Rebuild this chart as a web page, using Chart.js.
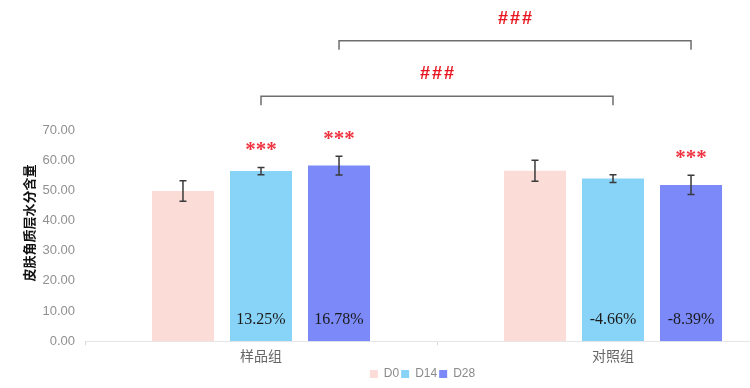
<!DOCTYPE html>
<html>
<head>
<meta charset="utf-8">
<script src="https://cdn.jsdelivr.net/npm/chart.js@4.4.0/dist/chart.umd.min.js"></script>
<style>
html,body{margin:0;padding:0;background:#fff;overflow:hidden;width:750px;height:388px;}
#wrap{position:relative;width:844px;height:394px;}
</style>
</head>
<body>
<div id="wrap"><canvas id="c" width="844" height="394"></canvas></div>
<script>
// ---- data ----
const categories = ['样品组', '对照组'];
const seriesNames = ['D0', 'D14', 'D28'];
const d0Values  = [49.8, 56.5];
const d14Values = [56.4, 53.9];
const d28Values = [58.2, 51.8];
const d0Errors  = [3.4, 3.5];
const d14Errors = [1.2, 1.3];
const d28Errors = [3.1, 3.2];
const d0Pct  = ['', ''];
const d14Pct = ['13.25%', '-4.66%'];
const d28Pct = ['16.78%', '-8.39%'];
const d0Sig  = ['', ''];
const d14Sig = ['***', ''];
const d28Sig = ['***', '***'];
const yTicks = [0, 10, 20, 30, 40, 50, 60, 70];
const yTitle = '皮肤角质层水分含量';
// brackets: [datasetIndex, categoryIndex] from -> to, level (value units), label
const bracketFrom   = [[1, 0], [2, 0]];
const bracketTo     = [[1, 1], [2, 1]];
const bracketLevels = [81.2, 99.6];
const bracketLabels = ['###', '###'];

const colors = ['#FCDCD7', '#88D4F8', '#7B89F9'];
const errors = [d0Errors, d14Errors, d28Errors];
const pcts = [d0Pct, d14Pct, d28Pct];
const sigs = [d0Sig, d14Sig, d28Sig];

const legendShift = {
  id: 'legendShift',
  afterLayout(chart) {
    const l = chart.legend;
    if (l) { l.left += 28; l.right += 28; }
  }
};

const annotPlugin = {
  id: 'annot',
  afterDatasetsDraw(chart) {
    const ctx = chart.ctx;
    const y = chart.scales.y;
    const area = chart.chartArea;
    ctx.save();
    chart.data.datasets.forEach((ds, di) => {
      const meta = chart.getDatasetMeta(di);
      meta.data.forEach((bar, ci) => {
        const v = ds.data[ci];
        const e = errors[di][ci];
        const x = bar.x;
        const yt = y.getPixelForValue(v + e);
        const yb = y.getPixelForValue(v - e);
        ctx.strokeStyle = '#3a3a3a';
        ctx.lineWidth = 1.5;
        ctx.beginPath();
        ctx.moveTo(x, yt); ctx.lineTo(x, yb);
        ctx.moveTo(x - 3.5, yt); ctx.lineTo(x + 3.5, yt);
        ctx.moveTo(x - 3.5, yb); ctx.lineTo(x + 3.5, yb);
        ctx.stroke();
        if (pcts[di][ci]) {
          ctx.fillStyle = '#1a1a1a';
          ctx.font = '16px "Liberation Serif", "Times New Roman", serif';
          ctx.textAlign = 'center';
          ctx.textBaseline = 'middle';
          ctx.fillText(pcts[di][ci], x, area.bottom - 21);
        }
        if (sigs[di][ci]) {
          ctx.fillStyle = '#EE3340';
          ctx.font = 'bold 21px "Liberation Serif", "Times New Roman", serif';
          ctx.textAlign = 'center';
          ctx.textBaseline = 'middle';
          ctx.fillText(sigs[di][ci], x, yt - 17);
        }
      });
    });
    bracketLevels.forEach((lv, i) => {
      const a = chart.getDatasetMeta(bracketFrom[i][0]).data[bracketFrom[i][1]];
      const b = chart.getDatasetMeta(bracketTo[i][0]).data[bracketTo[i][1]];
      const py = y.getPixelForValue(lv);
      ctx.strokeStyle = '#6e6e6e';
      ctx.lineWidth = 1.5;
      ctx.beginPath();
      ctx.moveTo(a.x, py + 9); ctx.lineTo(a.x, py); ctx.lineTo(b.x, py); ctx.lineTo(b.x, py + 9);
      ctx.stroke();
      ctx.fillStyle = '#E8141E';
      ctx.font = 'bold 18px "Liberation Sans", Arial, sans-serif';
      ctx.letterSpacing = '2px';
      ctx.textAlign = 'center';
      ctx.textBaseline = 'middle';
      ctx.fillText(bracketLabels[i], (a.x + b.x) / 2 + 1, py - 22);
      ctx.letterSpacing = '0px';
    });
    ctx.save();
    ctx.translate(29, 223);
    ctx.rotate(-Math.PI / 2);
    ctx.fillStyle = '#111';
    ctx.font = 'bold 13px "Noto Sans CJK SC", sans-serif';
    ctx.textAlign = 'center';
    ctx.textBaseline = 'middle';
    ctx.fillText(yTitle, 0, 0);
    ctx.restore();
    ctx.restore();
  }
};

new Chart(document.getElementById('c'), {
  type: 'bar',
  data: {
    labels: categories,
    datasets: [d0Values, d14Values, d28Values].map((vals, i) => ({
      label: seriesNames[i],
      data: vals,
      backgroundColor: colors[i],
      borderWidth: 0,
      categoryPercentage: 0.665,
      barPercentage: 0.795
    }))
  },
  options: {
    responsive: false,
    animation: false,
    layout: { padding: { top: 130, right: 55, bottom: 4, left: 0 } },
    plugins: {
      legend: {
        position: 'bottom',
        labels: {
          boxWidth: 8, boxHeight: 8, padding: 2,
          color: '#8a8a8a',
          font: { size: 12, family: '"Liberation Sans", Arial, sans-serif' }
        }
      },
      tooltip: { enabled: false }
    },
    scales: {
      x: {
        grid: { display: true, drawOnChartArea: false, drawTicks: true, tickLength: 4, color: '#d8d8d8' },
        border: { display: true, color: '#e6e6e6' },
        ticks: { color: '#666', padding: 2, font: { size: 14, family: '"Noto Sans CJK SC", sans-serif' } }
      },
      y: {
        min: 0, max: 70,
        afterFit(s) { s.width = 85; },
        afterBuildTicks(s) { s.ticks = yTicks.map(v => ({ value: v })); },
        grid: { display: false },
        border: { display: false },
        ticks: {
          color: '#909090', padding: 2,
          font: { size: 13, family: '"Liberation Sans", Arial, sans-serif' },
          callback: v => Number(v).toFixed(2)
        }
      }
    }
  },
  plugins: [annotPlugin, legendShift]
});
</script>
</body>
</html>
